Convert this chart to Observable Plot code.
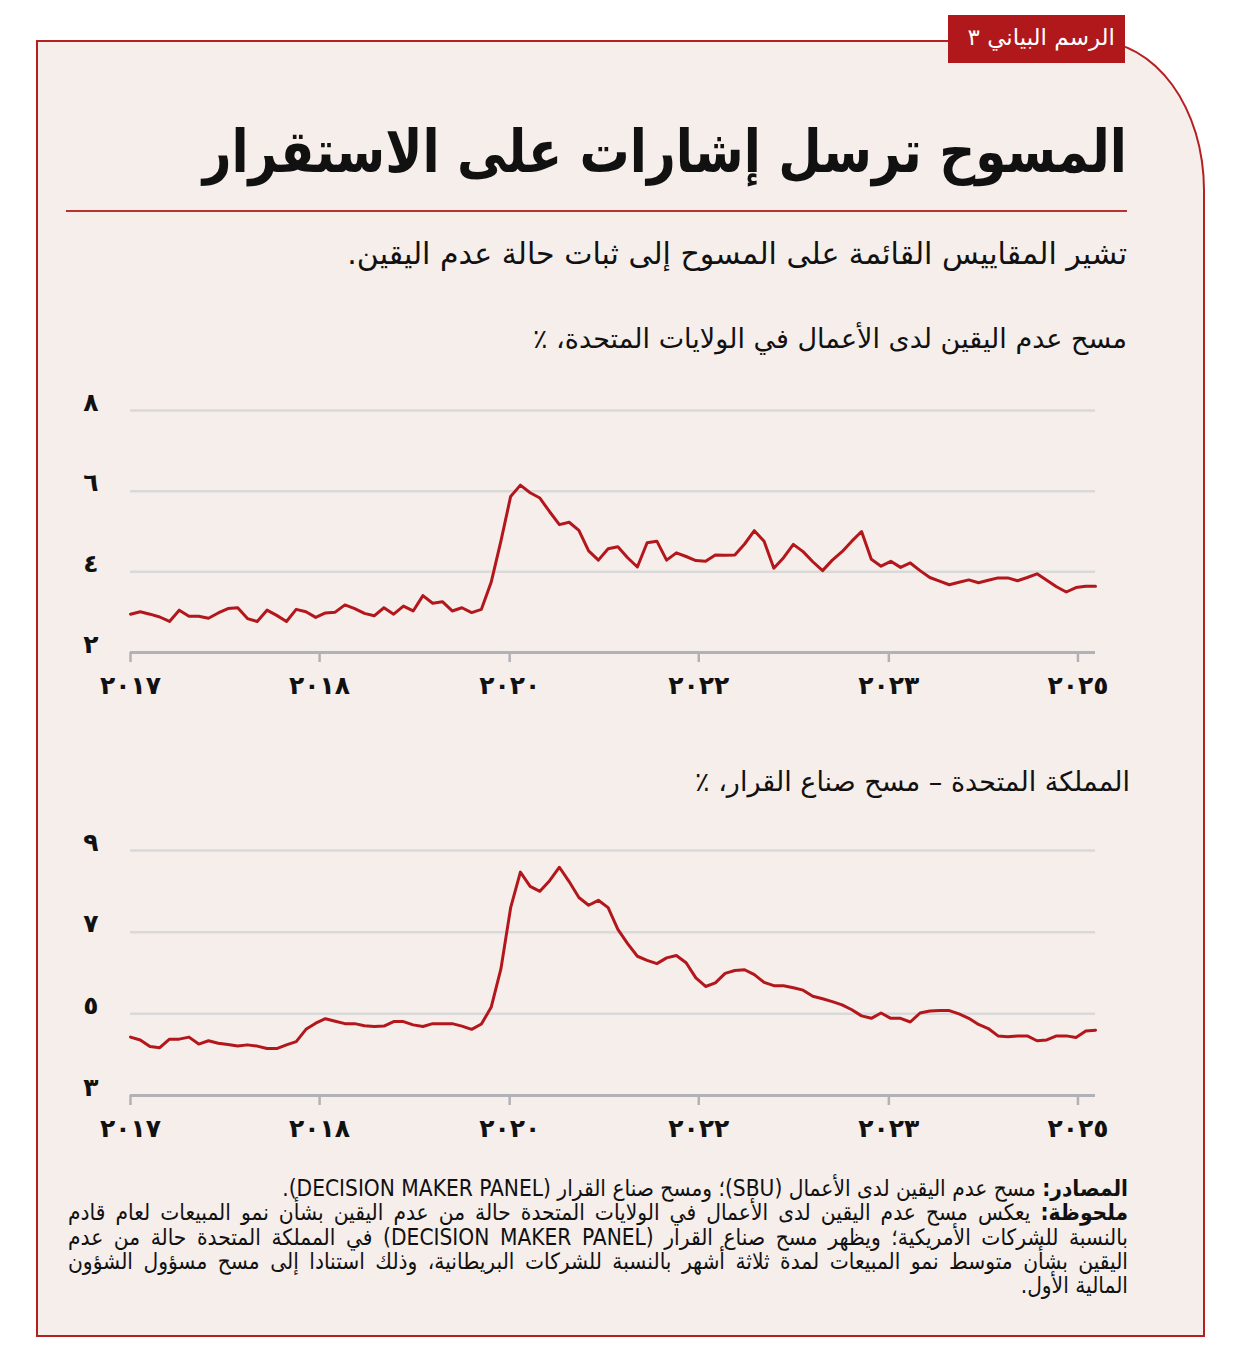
<!DOCTYPE html>
<html><head><meta charset="utf-8">
<script src="https://cdn.jsdelivr.net/npm/d3@7"></script>
<script src="https://cdn.jsdelivr.net/npm/@observablehq/plot@0.6"></script>
<style>
body{margin:0;background:#fff;width:1233px;height:1369px;position:relative;overflow:hidden;font-family:"DejaVu Sans",sans-serif;color:#111;}
#card{position:absolute;left:36px;top:40px;width:1169px;height:1297px;border:2px solid #b51f1f;border-top-right-radius:110px 150px;background:#f5eeeb;box-sizing:border-box;}
#badge{position:absolute;left:948px;top:15px;width:177px;height:48px;background:#b0181b;color:#fff;font-size:23px;line-height:44px;text-align:right;padding-right:10px;box-sizing:border-box;}
.t{position:absolute;direction:rtl;text-align:right;white-space:nowrap;transform-origin:100% 50%;}
#title{right:106px;top:123px;font-size:50px;font-weight:bold;transform:scaleY(1.18);}
#rule{position:absolute;left:66px;top:210px;width:1061px;height:2px;background:#b8322e;}
#sub{right:106px;top:236px;font-size:30px;}
#p1{right:106px;top:323px;font-size:27px;}
#p2{right:103px;top:766px;font-size:27px;}
.chart{position:absolute;left:0;}
#c1{top:380px;} #c2{top:820px;}
#foot{position:absolute;left:68px;width:1060px;top:1176px;direction:rtl;font-family:"DejaVu Sans Condensed","DejaVu Sans",sans-serif;font-stretch:condensed;font-size:22.5px;line-height:24.3px;}
#foot div{white-space:nowrap;transform-origin:100% 50%;}
#foot .j{text-align:justify;text-align-last:justify;}
</style></head>
<body>
<div id="card"></div>
<div id="badge" dir="rtl">الرسم البياني ٣</div>
<div class="t" id="title">المسوح ترسل إشارات على الاستقرار</div>
<div id="rule"></div>
<div class="t" id="sub">تشير المقاييس القائمة على المسوح إلى ثبات حالة عدم اليقين.</div>
<div class="t" id="p1">مسح عدم اليقين لدى الأعمال في الولايات المتحدة، ٪</div>
<div class="t" id="p2">المملكة المتحدة – مسح صناع القرار، ٪</div>
<div class="chart" id="c1"></div>
<div class="chart" id="c2"></div>
<div id="foot">
<div><b>المصادر:</b> مسح عدم اليقين لدى الأعمال (SBU)؛ ومسح صناع القرار (DECISION MAKER PANEL).</div>
<div class="j"><b>ملحوظة:</b> يعكس مسح عدم اليقين لدى الأعمال في الولايات المتحدة حالة من عدم اليقين بشأن نمو المبيعات لعام قادم</div>
<div class="j">بالنسبة للشركات الأمريكية؛ ويظهر مسح صناع القرار (DECISION MAKER PANEL) في المملكة المتحدة حالة من عدم</div>
<div class="j">اليقين بشأن متوسط نمو المبيعات لمدة ثلاثة أشهر بالنسبة للشركات البريطانية، وذلك استنادا إلى مسح مسؤول الشؤون</div>
<div>المالية الأول.</div>
</div>
<script>
// monthly observations, Jan 2017 onward (index = month number)
const usUncertainty = [2.95,3.01,2.95,2.88,2.77,3.05,2.90,2.90,2.85,2.98,
3.09,3.11,2.84,2.77,3.05,2.92,2.77,3.07,3.01,2.87,
2.98,3.00,3.18,3.09,2.97,2.91,3.11,2.95,3.15,3.03,
3.41,3.22,3.26,3.03,3.11,2.99,3.07,3.74,4.76,5.87,
6.15,5.96,5.83,5.49,5.17,5.23,5.03,4.52,4.29,4.57,
4.62,4.35,4.12,4.72,4.76,4.29,4.47,4.38,4.28,4.26,
4.42,4.41,4.42,4.69,5.02,4.76,4.09,4.35,4.68,4.50,
4.25,4.03,4.29,4.50,4.76,5.00,4.31,4.14,4.26,4.11,
4.22,4.03,3.86,3.77,3.68,3.74,3.80,3.73,3.79,3.85,
3.85,3.78,3.86,3.95,3.79,3.63,3.50,3.61,3.64,3.64];
const ukUncertainty = [4.43,4.36,4.20,4.17,4.38,4.38,4.43,4.26,4.34,4.28,
4.25,4.21,4.24,4.21,4.15,4.15,4.24,4.32,4.62,4.77,
4.88,4.82,4.76,4.76,4.71,4.69,4.70,4.81,4.81,4.73,
4.69,4.76,4.76,4.76,4.70,4.62,4.75,5.16,6.10,7.60,
8.47,8.12,8.00,8.26,8.59,8.24,7.85,7.66,7.78,7.60,
7.07,6.72,6.41,6.31,6.23,6.37,6.43,6.25,5.88,5.67,
5.76,5.99,6.06,6.08,5.96,5.77,5.69,5.69,5.64,5.58,
5.43,5.37,5.30,5.22,5.10,4.95,4.89,5.02,4.89,4.89,
4.80,5.02,5.07,5.08,5.08,5.00,4.89,4.74,4.64,4.46,
4.44,4.46,4.46,4.34,4.36,4.46,4.46,4.42,4.58,4.60];
const xTicks = [0, 19.4, 38.9, 58.3, 77.8, 97.2];
const xLabels = ["٢٠١٧","٢٠١٨","٢٠٢٠","٢٠٢٢","٢٠٢٣","٢٠٢٥"];
const usTicks = [2,4,6,8];
const usLabels = ["٢","٤","٦","٨"];
const ukTicks = [3,5,7,9];
const ukLabels = ["٣","٥","٧","٩"];

function chart(values, yTicks, yLabels, mb){
  const data = values.map((v,i)=>({i, v}));
  const lo = yTicks[0], hi = yTicks[yTicks.length-1];
  return Plot.plot({
    width:1233, height:330,
    marginLeft:130, marginRight:138, marginTop:30, marginBottom:mb,
    style:{background:"transparent", fontFamily:"DejaVu Sans", color:"#111", overflow:"visible"},
    x:{domain:[0, values.length-1], label:null},
    y:{domain:[lo, hi], label:null},
    marks:[
      Plot.gridY(yTicks.slice(1), {stroke:"#d9d9d9", strokeWidth:2.5, strokeOpacity:1}),
      Plot.ruleY([lo], {stroke:"#b1b2b7", strokeWidth:3}),
      Plot.axisX(xTicks, {tickSize:10, stroke:"#b1b2b7", strokeWidth:2.5, tickPadding:14, fontSize:25, fontWeight:"bold", label:null,
        tickFormat:d=>xLabels[xTicks.indexOf(d)]}),
      Plot.axisY(yTicks, {tickSize:0, tickPadding:32, fontSize:25, fontWeight:"bold", dy:-8, label:null,
        tickFormat:d=>yLabels[yTicks.indexOf(d)]}),
      Plot.line(data, {x:"i", y:"v", stroke:"#b3171c", strokeWidth:3, strokeLinejoin:"round"})
    ]
  });
}
document.getElementById("c1").appendChild(chart(usUncertainty, usTicks, usLabels, 58));
document.getElementById("c2").appendChild(chart(ukUncertainty, ukTicks, ukLabels, 55));

// keep each footnote line within the 1060px text block
document.querySelectorAll("#foot div").forEach(el => {
  const w = el.scrollWidth;
  if (w > 1060) el.style.transform = `scaleX(${1060 / w})`;
});
</script>
</body></html>
